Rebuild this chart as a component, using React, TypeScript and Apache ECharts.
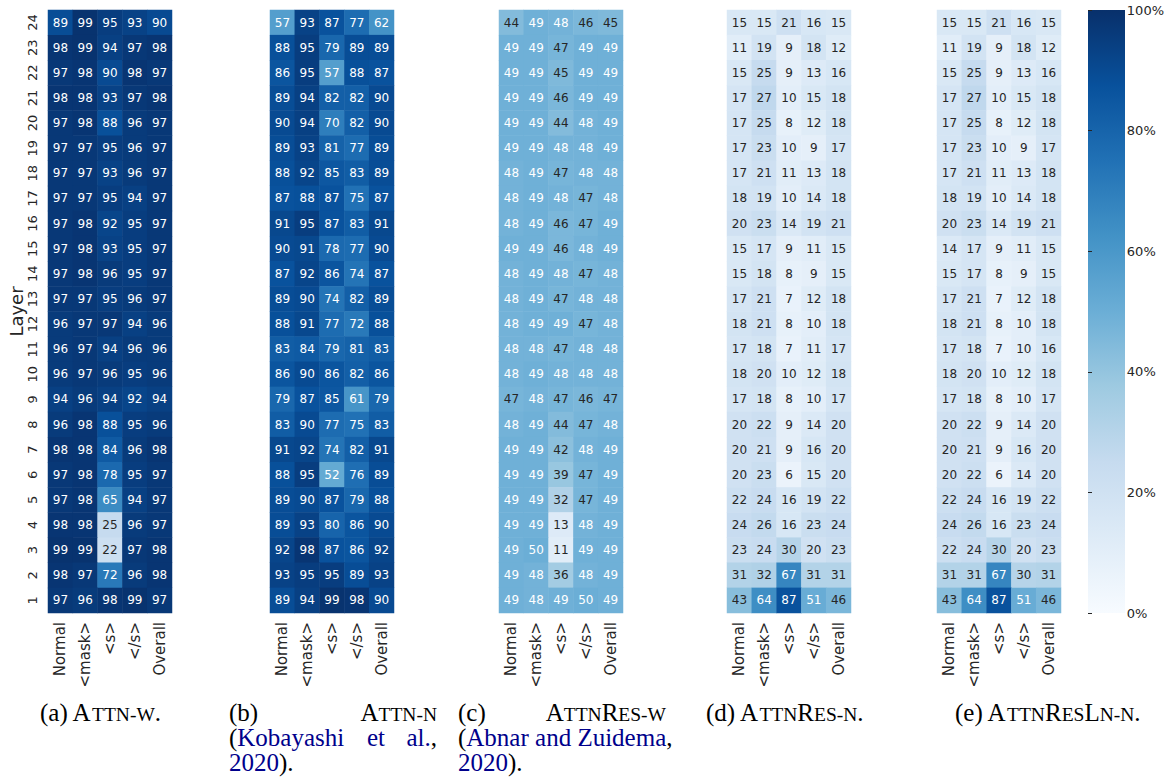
import React, { useEffect, useRef } from 'react';
import * as echarts from 'echarts';

// ---------- data ----------
const columns = ['Normal', '<mask>', '<s>', '</s>', 'Overall'];
const layers = ['1','2','3','4','5','6','7','8','9','10','11','12','13','14','15','16','17','18','19','20','21','22','23','24'];
const colorbarTicks = [0, 20, 40, 60, 80, 100];

// each array lists rows from layer 24 (top) down to layer 1 (bottom)
const attnW = [
  [89,99,95,93,90],[98,99,94,97,98],[97,98,90,98,97],[98,98,93,97,98],
  [97,98,88,96,97],[97,97,95,96,97],[97,97,93,96,97],[97,97,95,94,97],
  [97,98,92,95,97],[97,98,93,95,97],[97,98,96,95,97],[97,97,95,96,97],
  [96,97,97,94,96],[96,97,94,96,96],[96,97,96,95,96],[94,96,94,92,94],
  [96,98,88,95,96],[98,98,84,96,98],[97,98,78,95,97],[97,98,65,94,97],
  [98,98,25,96,97],[99,99,22,97,98],[98,97,72,96,98],[97,96,98,99,97],
];
const attnN = [
  [57,93,87,77,62],[88,95,79,89,89],[86,95,57,88,87],[89,94,82,82,90],
  [90,94,70,82,90],[89,93,81,77,89],[88,92,85,83,89],[87,88,87,75,87],
  [91,95,87,83,91],[90,91,78,77,90],[87,92,86,74,87],[89,90,74,82,89],
  [88,91,77,72,88],[83,84,79,81,83],[86,90,86,82,86],[79,87,85,61,79],
  [83,90,77,75,83],[91,92,74,82,91],[88,95,52,76,89],[89,90,87,79,88],
  [89,93,80,86,90],[92,98,87,86,92],[93,95,95,89,93],[89,94,99,98,90],
];
const attnResW = [
  [44,49,48,46,45],[49,49,47,49,49],[49,49,45,49,49],[49,49,46,49,49],
  [49,49,44,48,49],[49,49,48,48,49],[48,49,47,48,48],[48,49,48,47,48],
  [48,49,46,47,49],[49,49,46,48,49],[48,49,48,47,48],[48,49,47,48,48],
  [48,49,49,47,48],[48,48,47,48,48],[48,49,48,48,48],[47,48,47,46,47],
  [48,49,44,47,48],[49,49,42,48,49],[49,49,39,47,49],[49,49,32,47,49],
  [49,49,13,48,49],[49,50,11,49,49],[49,48,36,48,49],[49,48,49,50,49],
];
const attnResN = [
  [15,15,21,16,15],[11,19,9,18,12],[15,25,9,13,16],[17,27,10,15,18],
  [17,25,8,12,18],[17,23,10,9,17],[17,21,11,13,18],[18,19,10,14,18],
  [20,23,14,19,21],[15,17,9,11,15],[15,18,8,9,15],[17,21,7,12,18],
  [18,21,8,10,18],[17,18,7,11,17],[18,20,10,12,18],[17,18,8,10,17],
  [20,22,9,14,20],[20,21,9,16,20],[20,23,6,15,20],[22,24,16,19,22],
  [24,26,16,23,24],[23,24,30,20,23],[31,32,67,31,31],[43,64,87,51,46],
];
const attnResLnN = [
  [15,15,21,16,15],[11,19,9,18,12],[15,25,9,13,16],[17,27,10,15,18],
  [17,25,8,12,18],[17,23,10,9,17],[17,21,11,13,18],[18,19,10,14,18],
  [20,23,14,19,21],[14,17,9,11,15],[15,17,8,9,15],[17,21,7,12,18],
  [18,21,8,10,18],[17,18,7,10,16],[18,20,10,12,18],[17,18,8,10,17],
  [20,22,9,14,20],[20,21,9,16,20],[20,22,6,14,20],[22,24,16,19,22],
  [24,26,16,23,24],[22,24,30,20,23],[31,31,67,30,31],[43,64,87,51,46],
];
const panelData = [attnW, attnN, attnResW, attnResN, attnResLnN];

// ---------- style ----------
const BLUES = ['#f7fbff','#deebf7','#c6dbef','#9ecae1','#6baed6','#4292c6','#2171b5','#08519c','#08306b'];
const PANEL_LEFT = [48, 270, 499, 727, 937];
const PANEL_W = 124;
const TOP = 10;
const H = 603;
const CB = { x: 1088, y: 10, w: 37, h: 603 };

function hexToRgb(h: string) {
  return [parseInt(h.slice(1, 3), 16), parseInt(h.slice(3, 5), 16), parseInt(h.slice(5, 7), 16)];
}
function bluesAt(t: number) {
  const n = BLUES.length - 1;
  const p = Math.max(0, Math.min(1, t)) * n;
  const i = Math.min(Math.floor(p), n - 1);
  const f = p - i;
  const a = hexToRgb(BLUES[i]);
  const b = hexToRgb(BLUES[i + 1]);
  return a.map((v, k) => v + (b[k] - v) * f);
}
function textColorFor(v: number) {
  const rgb = bluesAt(v / 100).map((c) => {
    const s = c / 255;
    return s <= 0.03928 ? s / 12.92 : Math.pow((s + 0.055) / 1.055, 2.4);
  });
  const lum = 0.2126 * rgb[0] + 0.7152 * rgb[1] + 0.0722 * rgb[2];
  return lum > 0.408 ? '#262626' : '#ffffff';
}

const SERIF = "'Liberation Serif', 'Times New Roman', serif";
const NAVY = '#00008b';
const richCap = {
  n: { fontSize: 25, fontFamily: SERIF, fill: '#000', verticalAlign: 'bottom' },
  s: { fontSize: 19.5, fontFamily: SERIF, fill: '#000', verticalAlign: 'bottom' },
  l: { fontSize: 25, fontFamily: SERIF, fill: NAVY, verticalAlign: 'bottom' },
};

function capText(x: number, y: number, text: string, align = 'left') {
  return {
    type: 'text',
    x,
    y,
    style: {
      text,
      rich: richCap,
      fontSize: 25,
      fontFamily: SERIF,
      fill: '#000',
      textAlign: align,
      textVerticalAlign: 'middle',
    },
  };
}

export default function App() {
  const ref = useRef<HTMLDivElement>(null);

  useEffect(() => {
    if (!ref.current) return;
    const chart = echarts.init(ref.current, null, { renderer: 'svg' });

    const grids: any[] = [];
    const xAxes: any[] = [];
    const yAxes: any[] = [];
    const series: any[] = [];

    panelData.forEach((rows, pi) => {
      grids.push({ left: PANEL_LEFT[pi], top: TOP, width: PANEL_W, height: H });
      xAxes.push({
        type: 'category',
        gridIndex: pi,
        data: columns,
        position: 'bottom',
        axisLine: { show: false },
        axisTick: { show: false },
        splitLine: { show: false },
        axisLabel: {
          rotate: 90,
          margin: 9,
          fontSize: 15,
          fontFamily: 'DejaVu Sans',
          color: '#262626',
          interval: 0,
        },
      });
      yAxes.push({
        type: 'category',
        gridIndex: pi,
        data: layers,
        axisLine: { show: false },
        axisTick: { show: false },
        splitLine: { show: false },
        name: pi === 0 ? 'Layer' : '',
        nameLocation: 'middle',
        nameRotate: 90,
        nameGap: 23,
        nameTextStyle: { fontSize: 18, fontFamily: 'DejaVu Sans', color: '#262626' },
        axisLabel: {
          show: pi === 0,
          rotate: 90,
          margin: 9,
          fontSize: 13,
          fontFamily: 'DejaVu Sans',
          color: '#262626',
          interval: 0,
        },
      });
      const data: any[] = [];
      rows.forEach((row, r) => {
        const yi = layers.length - 1 - r;
        row.forEach((v, c) => {
          data.push({ value: [c, yi, v], label: { color: textColorFor(v) } });
        });
      });
      series.push({
        type: 'heatmap',
        xAxisIndex: pi,
        yAxisIndex: pi,
        data,
        label: {
          show: true,
          fontSize: 12,
          fontFamily: 'DejaVu Sans',
          formatter: (p: any) => String(p.value[2]),
        },
        itemStyle: { borderWidth: 0 },
        emphasis: { disabled: true },
      });
    });

    // colorbar axis
    grids.push({ left: CB.x, top: CB.y, width: CB.w, height: CB.h });
    xAxes.push({ type: 'value', gridIndex: 5, show: false, min: 0, max: 1 });
    yAxes.push({
      type: 'value',
      gridIndex: 5,
      position: 'right',
      min: colorbarTicks[0],
      max: colorbarTicks[colorbarTicks.length - 1],
      interval: 20,
      axisLine: { show: false },
      splitLine: { show: false },
      axisTick: { show: true, length: 4, lineStyle: { color: '#262626', width: 1 } },
      axisLabel: {
        formatter: '{value}%',
        margin: 4,
        fontSize: 13,
        fontFamily: 'DejaVu Sans',
        color: '#262626',
      },
    });
    series.push({ type: 'line', xAxisIndex: 5, yAxisIndex: 5, data: [], silent: true });

    const graphic: any[] = [
      {
        type: 'rect',
        shape: { x: CB.x, y: CB.y, width: CB.w, height: CB.h },
        z: -1,
        style: {
          fill: {
            type: 'linear',
            x: 0, y: 1, x2: 0, y2: 0,
            colorStops: BLUES.map((c, i) => ({ offset: i / (BLUES.length - 1), color: c })),
          },
        },
      },
      // (a)
      capText(40, 712, '{n|(a) A}{s|TTN-W}{n|.}'),
      // (b)
      capText(229, 712, '{n|(b)}'),
      capText(437, 712, '{n|A}{s|TTN-N}', 'right'),
      capText(229, 737, '{n|(}{l|Kobayashi}'),
      capText(376, 737, '{l|et}', 'center'),
      capText(437, 737, '{l|al.}{n|,}', 'right'),
      capText(229, 762, '{l|2020}{n|).}'),
      // (c)
      capText(458, 712, '{n|(c)}'),
      capText(666, 712, '{n|A}{s|TTN}{n|R}{s|ES-W}', 'right'),
      capText(458, 737, '{n|(}{l|Abnar and Zuidema}{n|,}'),
      capText(458, 762, '{l|2020}{n|).}'),
      // (d)
      capText(706, 712, '{n|(d) A}{s|TTN}{n|R}{s|ES-N}{n|.}'),
      // (e)
      capText(955, 712, '{n|(e) A}{s|TTN}{n|R}{s|ES}{n|L}{s|N-N}{n|.}'),
    ];

    chart.setOption({
      animation: false,
      grid: grids,
      xAxis: xAxes,
      yAxis: yAxes,
      visualMap: {
        type: 'continuous',
        show: false,
        min: 0,
        max: 100,
        seriesIndex: [0, 1, 2, 3, 4],
        dimension: 2,
        inRange: { color: BLUES },
      },
      series,
      graphic,
    });

    return () => chart.dispose();
  }, []);

  return (
    <div
      ref={ref}
      style={{ position: 'fixed', left: 0, top: 0, width: 1167, height: 779, background: '#fff' }}
    />
  );
}
